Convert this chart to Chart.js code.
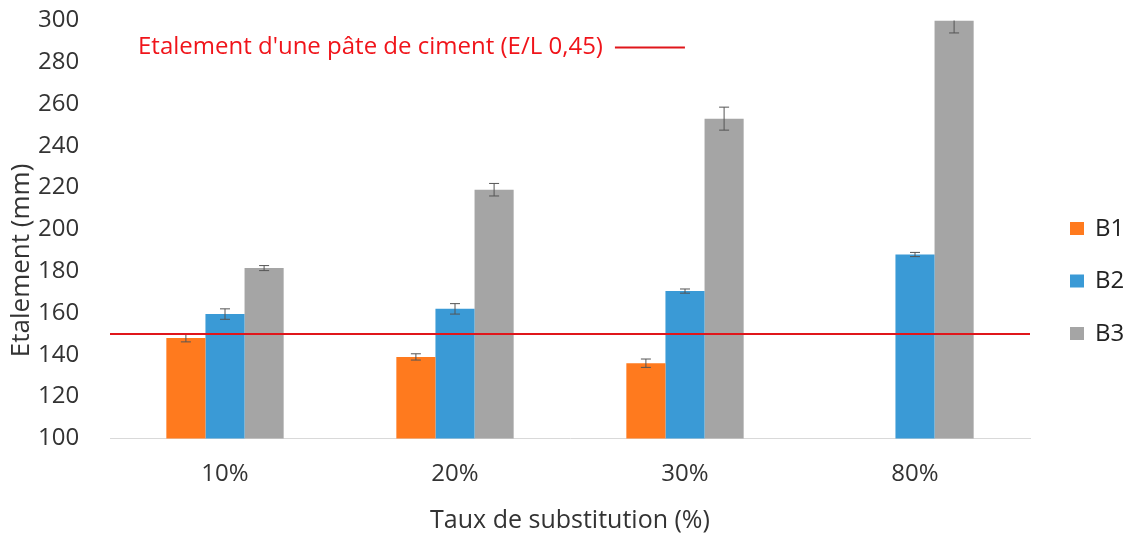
<!DOCTYPE html>
<html>
<head>
<meta charset="utf-8">
<script src="https://cdn.jsdelivr.net/npm/chart.js@4.4.1/dist/chart.umd.min.js"></script>
<style>
  html, body { margin: 0; padding: 0; background: #fff; }
  #wrap { width: 1132px; height: 533px; position: relative; }
</style>
</head>
<body>
<div id="wrap"><canvas id="myChart"></canvas></div>
<script>
// values
var categories = ['10%', '20%', '30%', '80%'];
var b1 = [148, 139, 136, null];
var b2 = [159.5, 162, 170.5, 188];
var b3 = [181.5, 219, 253, 300];
var b1Err = [1.8, 1.5, 2, null];
var b2Err = [2.5, 2.5, 1, 1];
var b3Err = [1.2, 3, 5.5, 6];
var refValue = 150;
var refLabel = "Etalement d'une pâte de ciment (E/L 0,45)";
var yTitle = 'Etalement (mm)';

var FONT = "'Open Sans', sans-serif";
var errors = [b1Err, b2Err, b3Err];

// error bars, drawn from the bar elements
var errorBars = {
  id: 'errorBars',
  afterDatasetsDraw: function (chart) {
    var ctx = chart.ctx;
    var y = chart.scales.y;
    var area = chart.chartArea;
    ctx.save();
    ctx.beginPath();
    ctx.rect(area.left, area.top, area.right - area.left, area.bottom - area.top);
    ctx.clip();
    ctx.strokeStyle = '#555';
    ctx.lineWidth = 1;
    chart.data.datasets.forEach(function (ds, i) {
      var meta = chart.getDatasetMeta(i);
      meta.data.forEach(function (bar, j) {
        var v = ds.data[j], e = errors[i][j];
        if (v == null || e == null) return;
        var top = y.getPixelForValue(v + e);
        var bot = y.getPixelForValue(v - e);
        ctx.beginPath();
        ctx.moveTo(bar.x, top); ctx.lineTo(bar.x, bot);
        ctx.moveTo(bar.x - 5, top); ctx.lineTo(bar.x + 5, top);
        ctx.moveTo(bar.x - 5, bot); ctx.lineTo(bar.x + 5, bot);
        ctx.stroke();
      });
    });
    ctx.restore();
  }
};

// reference line + its label, y axis title and the legend on the right
var extras = {
  id: 'extras',
  afterDatasetsDraw: function (chart) {
    var ctx = chart.ctx;
    var area = chart.chartArea;
    var py = chart.scales.y.getPixelForValue(refValue);
    ctx.save();
    ctx.strokeStyle = '#E0161B';
    ctx.lineWidth = 2;
    ctx.beginPath();
    ctx.moveTo(area.left, py); ctx.lineTo(area.right, py);
    ctx.stroke();

    ctx.font = '24px ' + FONT;
    ctx.fillStyle = '#F0141A';
    ctx.textBaseline = 'middle';
    var tx = area.left + 28, ty = area.top + 27;
    ctx.fillText(refLabel, tx, ty);
    var w = ctx.measureText(refLabel).width;
    ctx.beginPath();
    ctx.moveTo(tx + w + 12, ty); ctx.lineTo(tx + w + 82, ty);
    ctx.stroke();

    // legend
    var lx = area.right + 40;
    chart.data.datasets.forEach(function (ds, i) {
      var ly = 229 + i * 52.5;
      ctx.fillStyle = ds.backgroundColor;
      ctx.fillRect(lx, ly - 7, 14, 13);
      ctx.fillStyle = '#222';
      ctx.textAlign = 'left';
      ctx.fillText(ds.label, lx + 25, ly);
    });

    ctx.translate(22, (area.top + area.bottom) / 2 + 31);
    ctx.rotate(-Math.PI / 2);
    ctx.textAlign = 'center';
    ctx.fillStyle = '#333';
    ctx.font = '26px ' + FONT;
    ctx.fillText(yTitle, 0, 0);
    ctx.restore();
  }
};

var ctx = document.getElementById('myChart').getContext('2d');
var myChart = new Chart(ctx, {
  type: 'bar',
  data: {
    labels: categories,
    datasets: [
      { label: 'B1', data: b1, backgroundColor: '#FF7A1E' },
      { label: 'B2', data: b2, backgroundColor: '#3A9AD6' },
      { label: 'B3', data: b3, backgroundColor: '#A5A5A5' }
    ]
  },
  options: {
    responsive: true,
    maintainAspectRatio: false,
    animation: false,
    layout: { padding: { top: 0, right: 102, left: 38, bottom: 0 } },
    datasets: { bar: { categoryPercentage: 0.51, barPercentage: 1.0 } },
    plugins: {
      tooltip: { enabled: false },
      legend: { display: false }
    },
    scales: {
      x: {
        grid: { display: false, drawTicks: false },
        border: { color: '#D9D9D9', width: 1 },
        ticks: { color: '#333', padding: 21, font: { family: FONT, size: 24 } },
        title: { display: true, text: 'Taux de substitution (%)', color: '#333',
                 padding: { top: 0, bottom: 0 }, font: { family: FONT, size: 25, lineHeight: 0.95 } }
      },
      y: {
        min: 100, max: 300,
        grid: { display: false, drawTicks: false },
        border: { display: false },
        ticks: { stepSize: 20, color: '#333', padding: 6, crossAlign: 'far', font: { family: FONT, size: 24 } },
        afterFit: function (scale) { scale.width = 72; }
      }
    }
  },
  plugins: [errorBars, extras]
});
</script>
</body>
</html>
